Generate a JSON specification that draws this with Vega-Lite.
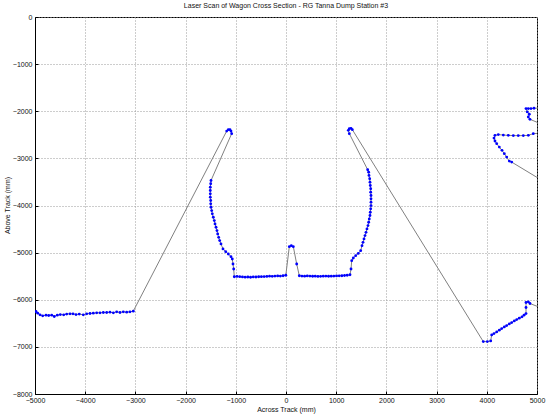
{
  "$schema": "https://vega.github.io/schema/vega-lite/v6.json",
  "width": 502,
  "height": 377,
  "autosize": "none",
  "padding": {"left": 35, "top": 17, "right": 13, "bottom": 26},
  "background": "white",
  "title": {"text": "Laser Scan of Wagon Cross Section - RG Tanna Dump Station #3", "font": "Liberation Sans", "fontSize": 7, "fontWeight": "normal", "color": "#111", "offset": 4},
  "config": {
    "view": {"stroke": "black", "strokeWidth": 1},
    "axis": {
      "labelFont": "Liberation Sans", "labelFontSize": 7, "labelColor": "#111",
      "titleFont": "Liberation Sans", "titleFontSize": 7, "titleFontWeight": "normal", "titleColor": "#111",
      "domainColor": "black", "tickColor": "black", "tickSize": -3,
      "grid": true, "gridColor": "#9a9a9a", "gridDash": [1, 2], "gridWidth": 1,
      "labelFlush": false, "labelOverlap": false, "format": "d"
    }
  },
  "data": {"values": [
    {"i":1,"x":-4980,"y":-6250},{"i":2,"x":-4946,"y":-6284},{"i":3,"x":-4900,"y":-6320},{"i":4,"x":-4847,"y":-6341},
    {"i":5,"x":-4781,"y":-6327},{"i":6,"x":-4727,"y":-6335},{"i":7,"x":-4667,"y":-6327},{"i":8,"x":-4616,"y":-6356},
    {"i":9,"x":-4556,"y":-6327},{"i":10,"x":-4496,"y":-6314},{"i":11,"x":-4428,"y":-6320},{"i":12,"x":-4369,"y":-6305},
    {"i":13,"x":-4303,"y":-6299},{"i":14,"x":-4243,"y":-6299},{"i":15,"x":-4183,"y":-6314},{"i":16,"x":-4118,"y":-6305},
    {"i":17,"x":-4038,"y":-6320},{"i":18,"x":-3970,"y":-6299},{"i":19,"x":-3904,"y":-6292},{"i":20,"x":-3839,"y":-6284},
    {"i":21,"x":-3771,"y":-6278},{"i":22,"x":-3705,"y":-6278},{"i":23,"x":-3639,"y":-6271},{"i":24,"x":-3572,"y":-6271},
    {"i":25,"x":-3506,"y":-6263},{"i":26,"x":-3439,"y":-6278},{"i":27,"x":-3373,"y":-6256},{"i":28,"x":-3307,"y":-6271},
    {"i":29,"x":-3241,"y":-6256},{"i":30,"x":-3173,"y":-6263},{"i":31,"x":-3108,"y":-6256},{"i":32,"x":-3042,"y":-6242},
    {"i":33,"x":-1181,"y":-2420},{"i":34,"x":-1149,"y":-2390},{"i":35,"x":-1116,"y":-2390},{"i":36,"x":-1096,"y":-2420},{"i":37,"x":-1082,"y":-2475},
    {"i":38,"x":-1494,"y":-3469},{"i":39,"x":-1500,"y":-3539},{"i":40,"x":-1508,"y":-3611},{"i":41,"x":-1508,"y":-3681},
    {"i":42,"x":-1508,"y":-3752},{"i":43,"x":-1508,"y":-3824},{"i":44,"x":-1500,"y":-3894},{"i":45,"x":-1500,"y":-3965},
    {"i":46,"x":-1494,"y":-4037},{"i":47,"x":-1480,"y":-4107},{"i":48,"x":-1468,"y":-4177},{"i":49,"x":-1448,"y":-4250},
    {"i":50,"x":-1428,"y":-4320},{"i":51,"x":-1414,"y":-4390},{"i":52,"x":-1394,"y":-4462},{"i":53,"x":-1375,"y":-4533},
    {"i":54,"x":-1361,"y":-4603},{"i":55,"x":-1341,"y":-4675},{"i":56,"x":-1321,"y":-4745},{"i":57,"x":-1295,"y":-4816},
    {"i":58,"x":-1255,"y":-4922},{"i":59,"x":-1201,"y":-4980},{"i":60,"x":-1149,"y":-5029},{"i":61,"x":-1096,"y":-5086},
    {"i":62,"x":-1070,"y":-5135},{"i":63,"x":-1056,"y":-5241},{"i":64,"x":-1042,"y":-5348},
    {"i":65,"x":-1030,"y":-5512},{"i":66,"x":-976,"y":-5505},{"i":67,"x":-922,"y":-5510},{"i":68,"x":-868,"y":-5515},
    {"i":69,"x":-814,"y":-5520},{"i":70,"x":-760,"y":-5518},{"i":71,"x":-706,"y":-5522},{"i":72,"x":-652,"y":-5515},
    {"i":73,"x":-598,"y":-5518},{"i":74,"x":-544,"y":-5512},{"i":75,"x":-490,"y":-5510},{"i":76,"x":-436,"y":-5508},
    {"i":77,"x":-382,"y":-5505},{"i":78,"x":-328,"y":-5500},{"i":79,"x":-274,"y":-5503},{"i":80,"x":-220,"y":-5498},
    {"i":81,"x":-166,"y":-5495},{"i":82,"x":-112,"y":-5497},{"i":83,"x":-58,"y":-5490},{"i":84,"x":-4,"y":-5480},
    {"i":85,"x":66,"y":-4873},{"i":86,"x":106,"y":-4852},{"i":87,"x":146,"y":-4873},{"i":88,"x":213,"y":-5242},
    {"i":89,"x":265,"y":-5490},{"i":90,"x":318,"y":-5497},{"i":91,"x":371,"y":-5500},{"i":92,"x":424,"y":-5495},
    {"i":93,"x":477,"y":-5498},{"i":94,"x":530,"y":-5502},{"i":95,"x":583,"y":-5500},{"i":96,"x":636,"y":-5505},
    {"i":97,"x":689,"y":-5503},{"i":98,"x":742,"y":-5500},{"i":99,"x":795,"y":-5498},{"i":100,"x":848,"y":-5502},
    {"i":101,"x":901,"y":-5500},{"i":102,"x":954,"y":-5497},{"i":103,"x":1007,"y":-5495},{"i":104,"x":1060,"y":-5492},
    {"i":105,"x":1113,"y":-5490},{"i":106,"x":1166,"y":-5485},{"i":107,"x":1219,"y":-5480},{"i":108,"x":1275,"y":-5470},
    {"i":109,"x":1295,"y":-5348},{"i":110,"x":1309,"y":-5171},{"i":111,"x":1341,"y":-5114},{"i":112,"x":1388,"y":-5065},
    {"i":113,"x":1440,"y":-5016},{"i":114,"x":1488,"y":-4958},{"i":115,"x":1514,"y":-4852},{"i":116,"x":1534,"y":-4782},
    {"i":117,"x":1554,"y":-4709},{"i":118,"x":1574,"y":-4639},{"i":119,"x":1594,"y":-4569},{"i":120,"x":1613,"y":-4497},
    {"i":121,"x":1633,"y":-4426},{"i":122,"x":1647,"y":-4356},{"i":123,"x":1659,"y":-4284},{"i":124,"x":1673,"y":-4213},
    {"i":125,"x":1679,"y":-4143},{"i":126,"x":1687,"y":-4071},{"i":127,"x":1693,"y":-4001},{"i":128,"x":1693,"y":-3930},
    {"i":129,"x":1693,"y":-3858},{"i":130,"x":1693,"y":-3788},{"i":131,"x":1687,"y":-3718},{"i":132,"x":1687,"y":-3645},
    {"i":133,"x":1679,"y":-3575},{"i":134,"x":1673,"y":-3505},{"i":135,"x":1667,"y":-3433},{"i":136,"x":1653,"y":-3362},
    {"i":137,"x":1647,"y":-3292},{"i":138,"x":1627,"y":-3241},
    {"i":139,"x":1261,"y":-2475},{"i":140,"x":1241,"y":-2405},{"i":141,"x":1261,"y":-2369},{"i":142,"x":1295,"y":-2362},{"i":143,"x":1321,"y":-2390},
    {"i":144,"x":3930,"y":-6888},{"i":145,"x":4010,"y":-6888},{"i":146,"x":4078,"y":-6873},{"i":147,"x":4097,"y":-6746},
    {"i":148,"x":4143,"y":-6718},{"i":149,"x":4197,"y":-6682},{"i":150,"x":4249,"y":-6646},{"i":151,"x":4297,"y":-6612},
    {"i":152,"x":4349,"y":-6576},{"i":153,"x":4396,"y":-6548},{"i":154,"x":4448,"y":-6512},{"i":155,"x":4496,"y":-6484},
    {"i":156,"x":4548,"y":-6450},{"i":157,"x":4596,"y":-6420},{"i":158,"x":4647,"y":-6390},{"i":159,"x":4701,"y":-6363},
    {"i":160,"x":4741,"y":-6327},{"i":161,"x":4781,"y":-6293},{"i":162,"x":4781,"y":-6165},{"i":163,"x":4781,"y":-6058},
    {"i":164,"x":4827,"y":-6044},{"i":165,"x":4860,"y":-6080},
    {"i":166,"x":5150,"y":-6200},{"i":167,"x":5150,"y":-3500},
    {"i":168,"x":4496,"y":-3079},{"i":169,"x":4448,"y":-3058},{"i":170,"x":4396,"y":-2973},{"i":171,"x":4349,"y":-2901},
    {"i":172,"x":4303,"y":-2830},{"i":173,"x":4249,"y":-2760},{"i":174,"x":4197,"y":-2688},{"i":175,"x":4163,"y":-2632},
    {"i":176,"x":4143,"y":-2569},{"i":177,"x":4163,"y":-2511},{"i":178,"x":4229,"y":-2496},{"i":179,"x":4329,"y":-2505},
    {"i":180,"x":4428,"y":-2511},{"i":181,"x":4528,"y":-2517},{"i":182,"x":4627,"y":-2517},{"i":183,"x":4727,"y":-2517},
    {"i":184,"x":4827,"y":-2511},{"i":185,"x":4926,"y":-2475},
    {"i":186,"x":5150,"y":-2460},{"i":187,"x":5150,"y":-2300},
    {"i":188,"x":4860,"y":-2171},{"i":189,"x":4827,"y":-2122},{"i":190,"x":4847,"y":-2064},{"i":191,"x":4807,"y":-2015},
    {"i":192,"x":4781,"y":-1943},{"i":193,"x":4827,"y":-1943},{"i":194,"x":4880,"y":-1943},{"i":195,"x":4940,"y":-1936},
    {"i":196,"x":5150,"y":-1930}
  ]},
  "encoding": {
    "x": {"field": "x", "type": "quantitative", "title": "Across Track (mm)",
      "scale": {"domain": [-5000, 5000], "nice": false, "zero": false},
      "axis": {"values": [-5000,-4000,-3000,-2000,-1000,0,1000,2000,3000,4000,5000], "labelPadding": 5, "titlePadding": 2}},
    "y": {"field": "y", "type": "quantitative", "title": "Above Track (mm)",
      "scale": {"domain": [-8000, 0], "nice": false, "zero": false},
      "axis": {"values": [-8000,-7000,-6000,-5000,-4000,-3000,-2000,-1000,0], "labelPadding": 6, "titleX": -25, "titleY": 188, "titleAnchor": "middle"}}
  },
  "layer": [
    {"mark": {"type": "line", "color": "#808080", "strokeWidth": 1, "clip": true},
     "encoding": {"order": {"field": "i", "type": "quantitative"}}},
    {"mark": {"type": "point", "filled": true, "color": "#0000ff", "size": 8, "opacity": 1, "clip": true}}
  ]
}
